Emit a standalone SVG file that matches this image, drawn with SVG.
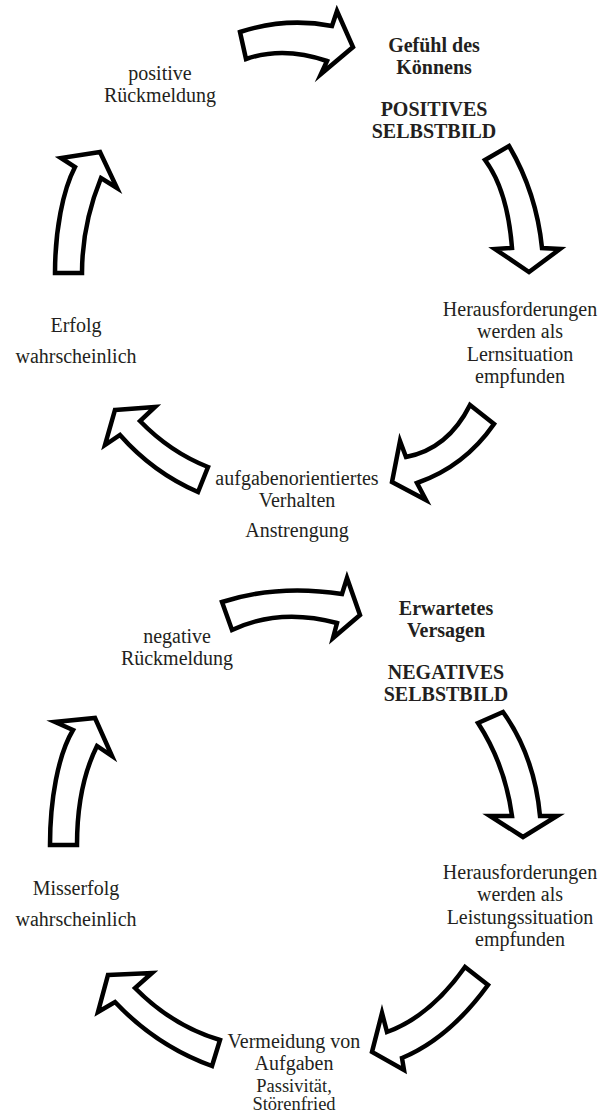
<svg xmlns="http://www.w3.org/2000/svg" width="600" height="1115" viewBox="0 0 600 1115">
  <style>
    .t { font-family: "Liberation Serif", "Times New Roman", serif; font-size: 20px; fill: #231f20; text-anchor: middle; }
    .s { font-size: 18.5px; }
    .b { font-weight: bold; }
    .arrow { fill: #ffffff; stroke: #000000; stroke-width: 4.5; stroke-linejoin: miter; stroke-miterlimit: 10; }
  </style>
  <rect x="0" y="0" width="600" height="1115" fill="#ffffff"/>

  <!-- Upper cycle: block arrows -->
  <g id="connectors-positive">
    <path class="arrow" d="M240,32 Q286,17 332,26 L337,11 L353,47 L321,74 L327,61 Q283.5,46 246,59 Z"/>
    <path class="arrow" d="M485,160 L509,146 Q536.5,193 542,248 L560,249 L529,272 L495,249 L512,248 Q507.5,190 485,160 Z"/>
    <path class="arrow" d="M470,405 L494,424 Q464.5,466.5 417,483 L426,500 L392,482 L400,441 L406,457 Q448,449 470,405 Z"/>
    <path class="arrow" d="M115,410 L155,407 L140,421 Q170,452 208,467 L198,492 Q153,472.5 120,435 L105,445 Z"/>
    <path class="arrow" d="M55,273 C55,230 63,190 75,167 L61,158 L100,152 L117,188 L101,178 C90,205 82,235 82,273 Z"/>
  </g>

  <!-- Lower cycle: block arrows -->
  <g id="connectors-negative">
    <path class="arrow" d="M222,602 Q278,584 342,594 L347,578 L360,615 L333,638 L337,623 Q279.5,607.5 232,630 Z"/>
    <path class="arrow" d="M478,723 L503,712 Q534.5,756 540,816 L557,816 L523,837 L490,816 L512,816 Q505,764.5 478,723 Z"/>
    <path class="arrow" d="M465,967 L488,985 Q449,1038.5 402,1058 L404,1070 L372,1052 L382,1013 L387,1032 Q430,1016.5 465,967 Z"/>
    <path class="arrow" d="M108,975 L152,973 L135,988 Q172.5,1026 220,1040 L212,1066 Q156.5,1046 115,1002 L98,1012 Z"/>
    <path class="arrow" d="M50,845 C50,800 58,755 73,730 L55,722 L95,718 L112,756 L97,746 C85,770 77,800 77,845 Z"/>
  </g>

  <!-- Upper cycle: nodes -->
  <g id="node-selbstbild-positiv">
    <text class="t b" x="434" y="52">Gefühl des</text>
    <text class="t b" x="434" y="74">Könnens</text>
    <text class="t b" x="434" y="116">POSITIVES</text>
    <text class="t b" x="434" y="138">SELBSTBILD</text>
  </g>
  <g id="node-lernsituation">
    <text class="t" x="520" y="316">Herausforderungen</text>
    <text class="t" x="520" y="338">werden als</text>
    <text class="t" x="520" y="361">Lernsituation</text>
    <text class="t" x="520" y="383">empfunden</text>
  </g>
  <g id="node-verhalten">
    <text class="t" x="297" y="485">aufgabenorientiertes</text>
    <text class="t" x="297" y="507">Verhalten</text>
    <text class="t" x="297" y="537">Anstrengung</text>
  </g>
  <g id="node-erfolg">
    <text class="t" x="76" y="332">Erfolg</text>
    <text class="t" x="76" y="363">wahrscheinlich</text>
  </g>
  <g id="node-rueckmeldung-positiv">
    <text class="t" x="160" y="80">positive</text>
    <text class="t" x="160" y="102">Rückmeldung</text>
  </g>

  <!-- Lower cycle: nodes -->
  <g id="node-selbstbild-negativ">
    <text class="t b" x="446" y="615">Erwartetes</text>
    <text class="t b" x="446" y="637">Versagen</text>
    <text class="t b" x="446" y="679">NEGATIVES</text>
    <text class="t b" x="446" y="701">SELBSTBILD</text>
  </g>
  <g id="node-leistungssituation">
    <text class="t" x="520" y="879">Herausforderungen</text>
    <text class="t" x="520" y="901">werden als</text>
    <text class="t" x="520" y="924">Leistungssituation</text>
    <text class="t" x="520" y="946">empfunden</text>
  </g>
  <g id="node-vermeidung">
    <text class="t" x="294" y="1048">Vermeidung von</text>
    <text class="t" x="294" y="1070">Aufgaben</text>
    <text class="t s" x="294" y="1092">Passivität,</text>
    <text class="t s" x="294" y="1110">Störenfried</text>
  </g>
  <g id="node-misserfolg">
    <text class="t" x="76" y="895">Misserfolg</text>
    <text class="t" x="76" y="926">wahrscheinlich</text>
  </g>
  <g id="node-rueckmeldung-negativ">
    <text class="t" x="177" y="643">negative</text>
    <text class="t" x="177" y="665">Rückmeldung</text>
  </g>
</svg>
